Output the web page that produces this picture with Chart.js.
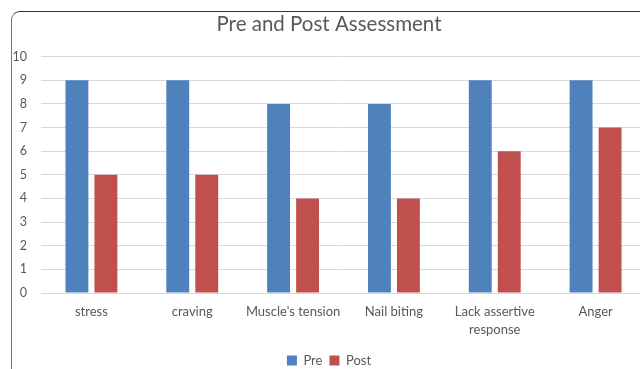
<!DOCTYPE html>
<html>
<head>
<meta charset="utf-8">
<script src="https://cdn.jsdelivr.net/npm/chart.js@4.4.0/dist/chart.umd.min.js"></script>
<style>
html,body{margin:0;padding:0;width:640px;height:369px;overflow:hidden;background:#fff;}
#frame{position:absolute;left:11px;top:11px;width:660px;height:400px;border-top:1px solid #333;border-left:1px solid #777;border-top-left-radius:9px;box-sizing:border-box;}
#wrap{position:absolute;left:0px;top:0px;width:646px;height:365px;}
</style>
</head>
<body>
<div id="frame"><div id="wrap"><canvas id="c"></canvas></div></div>
<script>
const categories = ["stress", "craving", "Muscle's tension", "Nail biting", ["Lack assertive", "response"], "Anger"];
const preValues = [9, 9, 8, 8, 9, 9];
const postValues = [5, 5, 4, 4, 6, 7];
const yTicks = [0, 1, 2, 3, 4, 5, 6, 7, 8, 9, 10];
const FONT = "Lato, 'Open Sans', sans-serif";

new Chart(document.getElementById('c'), {
  type: 'bar',
  data: {
    labels: categories,
    datasets: [
      {label: 'Pre', data: preValues, backgroundColor: '#4f81bd', borderWidth: 0, categoryPercentage: 0.575, barPercentage: 0.79},
      {label: 'Post', data: postValues, backgroundColor: '#c0504d', borderWidth: 0, categoryPercentage: 0.575, barPercentage: 0.79}
    ]
  },
  options: {
    responsive: true,
    maintainAspectRatio: false,
    animation: false,
    layout: {padding: {left: 0, right: 12, top: 0, bottom: 0}},
    plugins: {
      title: {display: true, text: 'Pre and Post Assessment', color: '#595959',
        font: {family: FONT, size: 20.5, weight: 'normal'}, padding: {top: 0, bottom: 20}},
      legend: {position: 'bottom', labels: {color: '#595959', boxWidth: 10, boxHeight: 10, padding: 7,
        font: {family: FONT, size: 13}}},
      tooltip: {enabled: false}
    },
    scales: {
      x: {
        grid: {display: false, drawTicks: false},
        border: {display: true, color: '#d9d9d9'},
        ticks: {color: '#595959', padding: 10, maxRotation: 0, autoSkip: false,
          font: {family: FONT, size: 13, lineHeight: 1.4}},
        afterFit: (s) => { s.height = 54; }
      },
      y: {
        min: 0, max: 10,
        afterBuildTicks: (s) => { s.ticks = yTicks.map(v => ({value: v})); },
        grid: {color: '#d9d9d9', drawTicks: false},
        border: {display: false},
        ticks: {color: '#595959', padding: 14, font: {family: FONT, size: 12.5}},
        afterFit: (s) => { s.width = 29; }
      }
    }
  }
});
</script>
</body>
</html>
